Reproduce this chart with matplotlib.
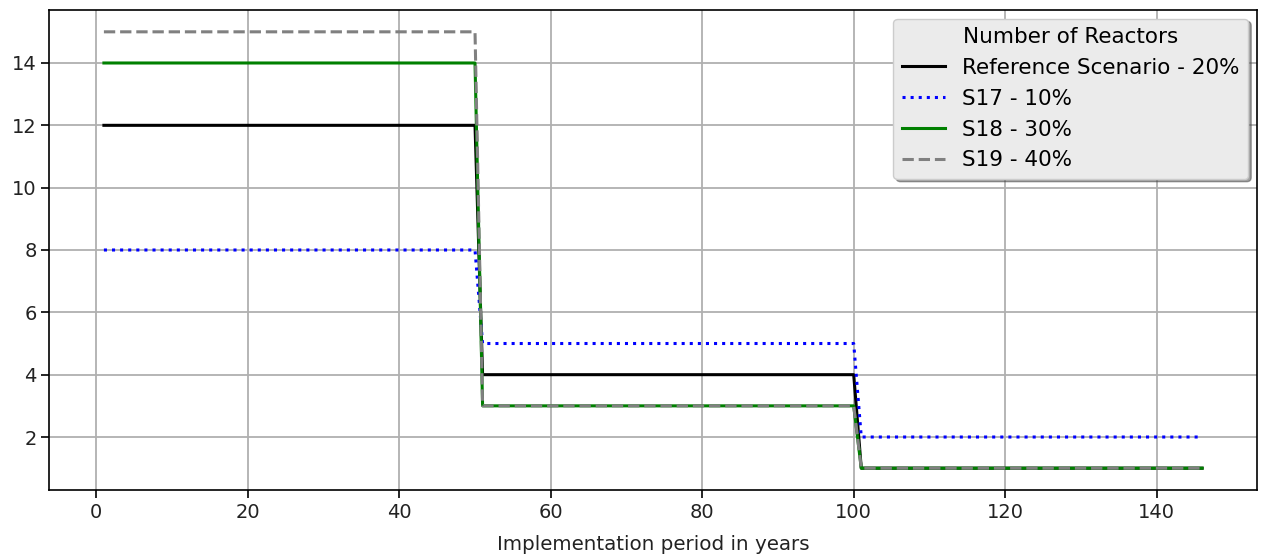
import matplotlib
matplotlib.use("Agg")
import matplotlib.pyplot as plt
import numpy as np

years = np.arange(1, 147)
periods = [(1, 50), (51, 100), (101, 146)]
ref_levels = [12, 4, 1]
s17_levels = [8, 5, 2]
s18_levels = [14, 3, 1]
s19_levels = [15, 3, 1]
labels = ["Reference Scenario - 20%", "S17 - 10%", "S18 - 30%", "S19 - 40%"]


def expand(levels):
    out = []
    for (a, b), v in zip(periods, levels):
        out += [v] * (b - a + 1)
    return np.array(out)


fig = plt.figure(figsize=(12.61, 5.59), dpi=100)
ax = fig.add_axes([49 / 1261, 1 - 490 / 559, (1257 - 49) / 1261, (490 - 10) / 559])

lw = 2.2
ax.plot(years, expand(ref_levels), color="black", linestyle="-", linewidth=lw, label=labels[0])
ax.plot(years, expand(s17_levels), color="blue", linestyle=":", linewidth=lw, label=labels[1])
ax.plot(years, expand(s18_levels), color="green", linestyle="-", linewidth=lw, label=labels[2])
ax.plot(years, expand(s19_levels), color="gray", linestyle="--", linewidth=lw, label=labels[3])

ax.grid(True, color="#b0b0b0", linewidth=1.3)
for s in ax.spines.values():
    s.set_linewidth(1.2)
ax.set_xlabel("Implementation period in years", fontsize=14.3, color="#222222", labelpad=10)
ax.tick_params(labelsize=14, length=5.5, width=1.2, labelcolor="#222222")
leg = ax.legend(title="Number of Reactors", loc="upper right", shadow=True,
                fontsize=15.5, title_fontsize=15.5, facecolor="#ebebeb",
                edgecolor="#cccccc", framealpha=1.0, labelspacing=0.5,
                borderaxespad=0.4)

fig.savefig("out.png", dpi=100)
